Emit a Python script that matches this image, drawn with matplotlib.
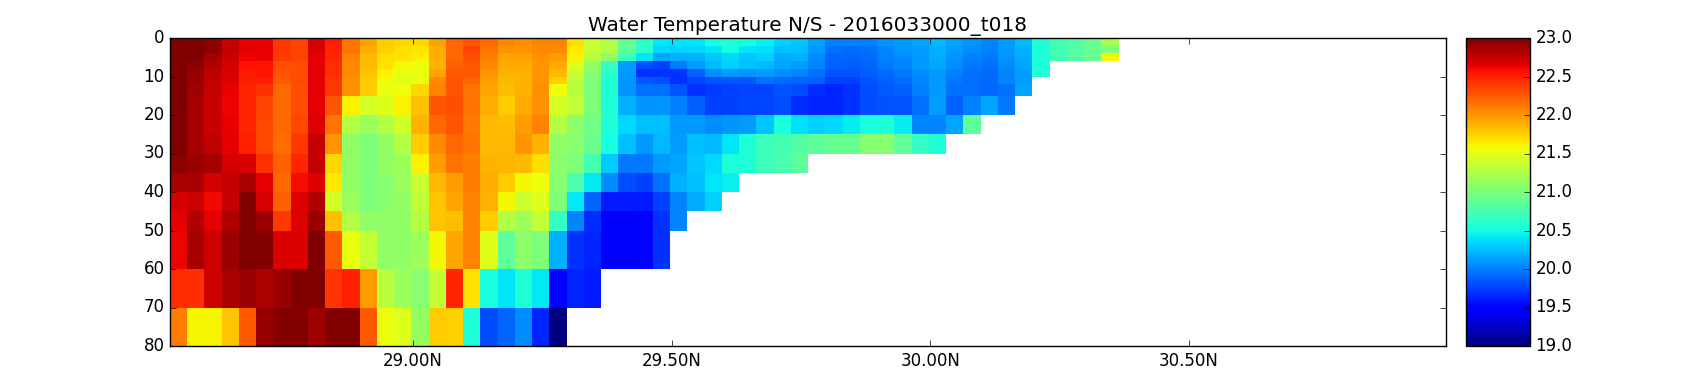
#!/usr/bin/env python3
# water temperature section, N/S
import matplotlib
matplotlib.use('Agg')
import matplotlib.pyplot as plt
import numpy as np
from matplotlib.ticker import FuncFormatter

plt.style.use('classic')

title = 'Water Temperature N/S - 2016033000_t018'
depth_edges = [0, 2, 4, 6, 8, 10, 12, 15, 20, 25, 30, 35, 40, 45, 50, 60, 70, 80]
lat_start = 28.53
lat_step = 0.03335
lat_ticks = [29.0, 29.5, 30.0, 30.5]
depth_ticks = [0, 10, 20, 30, 40, 50, 60, 70, 80]
cbar_ticks = [19.0, 19.5, 20.0, 20.5, 21.0, 21.5, 22.0, 22.5, 23.0]

# one list per latitude column, top down, stops where the bottom is reached
temp_columns = [
    [23.0, 23.0, 23.0, 23.0, 23.0, 23.0, 23.0, 23.0, 23.0, 23.0, 22.95, 22.85, 22.7, 22.65, 22.62, 22.45, 22.1],
    [23.0, 23.0, 23.0, 22.95, 22.92, 22.9, 22.88, 22.87, 22.85, 22.85, 22.9, 22.85, 22.72, 22.82, 22.87, 22.45, 21.6],
    [22.95, 22.95, 22.87, 22.82, 22.78, 22.75, 22.75, 22.74, 22.74, 22.78, 22.87, 22.7, 22.6, 22.65, 22.73, 22.72, 21.6],
    [22.75, 22.75, 22.72, 22.7, 22.68, 22.67, 22.63, 22.62, 22.63, 22.63, 22.7, 22.75, 22.75, 22.83, 22.9, 22.85, 21.8],
    [22.65, 22.65, 22.62, 22.55, 22.52, 22.5, 22.48, 22.47, 22.47, 22.5, 22.68, 22.85, 22.98, 22.98, 23.0, 22.9, 22.25],
    [22.64, 22.64, 22.64, 22.55, 22.55, 22.5, 22.43, 22.35, 22.33, 22.33, 22.43, 22.65, 22.7, 22.9, 22.98, 22.83, 22.92],
    [22.4, 22.4, 22.38, 22.3, 22.27, 22.25, 22.2, 22.2, 22.2, 22.18, 22.22, 22.2, 22.22, 22.4, 22.68, 22.9, 22.98],
    [22.35, 22.35, 22.35, 22.3, 22.3, 22.32, 22.3, 22.3, 22.33, 22.4, 22.47, 22.58, 22.67, 22.67, 22.68, 23.0, 22.98],
    [22.7, 22.7, 22.65, 22.65, 22.65, 22.63, 22.65, 22.65, 22.66, 22.75, 22.76, 22.66, 22.82, 22.9, 23.0, 23.0, 22.88],
    [22.5, 22.47, 22.47, 22.43, 22.45, 22.4, 22.4, 22.28, 22.15, 22.0, 21.72, 21.65, 21.42, 21.82, 22.25, 22.42, 22.98],
    [22.15, 22.15, 22.08, 22.05, 22.05, 22.03, 22.02, 21.62, 21.28, 21.1, 21.1, 21.1, 21.15, 21.27, 21.52, 22.5, 23.0],
    [21.95, 21.92, 21.85, 21.85, 21.8, 21.78, 21.77, 21.42, 21.15, 21.0, 21.0, 21.0, 21.0, 21.1, 21.35, 21.97, 22.25],
    [21.77, 21.75, 21.7, 21.68, 21.62, 21.57, 21.53, 21.47, 21.27, 21.1, 21.12, 21.05, 21.05, 21.1, 21.1, 21.3, 21.54],
    [21.72, 21.7, 21.68, 21.58, 21.53, 21.48, 21.55, 21.62, 21.4, 21.27, 21.17, 21.15, 21.12, 21.1, 21.1, 21.17, 21.47],
    [21.72, 21.68, 21.63, 21.54, 21.52, 21.52, 21.72, 21.82, 21.88, 21.78, 21.62, 21.37, 21.33, 21.27, 21.17, 21.05, 21.12],
    [21.95, 21.92, 21.9, 21.88, 21.95, 22.05, 22.08, 22.27, 22.2, 22.06, 21.97, 21.85, 21.8, 21.8, 21.58, 21.35, 21.77],
    [22.2, 22.2, 22.2, 22.23, 22.25, 22.28, 22.28, 22.3, 22.28, 22.2, 22.15, 21.97, 21.95, 21.83, 21.93, 22.47, 21.75],
    [22.28, 22.35, 22.3, 22.25, 22.25, 22.2, 22.15, 22.15, 22.12, 22.15, 22.1, 22.1, 22.08, 22.08, 22.08, 21.68, 20.55],
    [22.2, 22.15, 22.1, 22.07, 22.0, 21.97, 21.95, 21.92, 21.85, 21.85, 21.88, 21.92, 21.88, 21.78, 21.47, 20.53, 19.8],
    [22.07, 22.02, 21.95, 21.92, 21.88, 21.85, 21.83, 21.78, 21.83, 21.85, 21.87, 21.78, 21.58, 21.25, 20.85, 20.4, 19.9],
    [22.02, 22.0, 21.95, 21.92, 21.88, 21.88, 21.88, 21.92, 21.98, 22.0, 21.85, 21.58, 21.38, 21.17, 21.08, 20.55, 20.05],
    [22.08, 22.06, 22.02, 22.0, 22.0, 22.0, 22.02, 22.02, 22.08, 21.88, 21.7, 21.55, 21.47, 21.33, 21.0, 20.42, 19.65],
    [22.08, 22.06, 21.98, 21.92, 21.85, 21.75, 21.55, 21.42, 21.27, 21.1, 21.08, 21.05, 21.0, 20.65, 20.2, 19.45, 19.0],
    [21.7, 21.65, 21.62, 21.47, 21.35, 21.3, 21.3, 21.32, 21.08, 21.05, 21.0, 20.75, 20.42, 20.02, 19.7, 19.65],
    [21.37, 21.35, 21.28, 21.12, 21.05, 21.0, 21.0, 21.0, 20.95, 20.92, 20.72, 20.42, 19.9, 19.68, 19.65, 19.6],
    [21.25, 21.25, 21.1, 20.65, 20.6, 20.55, 20.55, 20.55, 20.55, 20.5, 20.3, 20.05, 19.6, 19.47, 19.47],
    [20.9, 20.85, 20.7, 20.12, 20.1, 20.08, 20.08, 20.2, 20.35, 20.25, 19.98, 19.8, 19.6, 19.47, 19.47],
    [20.62, 20.62, 20.4, 19.8, 19.7, 19.85, 19.95, 20.08, 20.25, 20.1, 19.98, 19.75, 19.6, 19.5, 19.5],
    [20.42, 20.35, 20.15, 19.75, 19.7, 19.82, 19.95, 20.08, 20.25, 20.22, 20.1, 19.95, 19.75, 19.7, 19.7],
    [20.4, 20.32, 20.2, 19.98, 19.7, 19.7, 19.83, 20.0, 20.1, 20.12, 20.15, 20.2, 20.03, 20.02],
    [20.4, 20.35, 20.2, 20.1, 19.88, 19.78, 19.7, 19.88, 20.1, 20.25, 20.28, 20.25, 20.18],
    [20.5, 20.4, 20.28, 20.22, 20.05, 19.82, 19.72, 19.75, 20.05, 20.22, 20.35, 20.4, 20.32],
    [20.55, 20.5, 20.35, 20.32, 20.12, 19.83, 19.75, 19.75, 20.08, 20.4, 20.55, 20.45],
    [20.5, 20.4, 20.28, 20.25, 20.08, 19.83, 19.78, 19.77, 20.12, 20.55, 20.55],
    [20.45, 20.38, 20.32, 20.22, 20.12, 19.95, 19.77, 19.77, 20.28, 20.7, 20.7],
    [20.32, 20.25, 20.18, 20.15, 20.05, 19.92, 19.83, 19.8, 20.52, 20.72, 20.75],
    [20.28, 20.25, 20.2, 20.12, 20.02, 19.9, 19.8, 19.68, 20.38, 20.8, 20.85],
    [20.15, 20.1, 20.05, 20.02, 19.95, 19.88, 19.68, 19.65, 20.32, 20.85],
    [20.0, 19.95, 19.9, 19.88, 19.83, 19.75, 19.65, 19.65, 20.35, 20.9],
    [20.0, 19.92, 19.9, 19.87, 19.83, 19.75, 19.7, 19.7, 20.43, 20.9],
    [20.0, 19.95, 19.92, 19.9, 19.86, 19.82, 19.8, 19.8, 20.5, 21.05],
    [20.08, 20.02, 20.0, 19.98, 19.92, 19.88, 19.85, 19.82, 20.55, 21.05],
    [20.1, 20.08, 20.05, 20.02, 19.98, 19.93, 19.88, 19.83, 20.43, 20.87],
    [20.15, 20.12, 20.1, 20.1, 20.05, 20.03, 20.0, 19.95, 20.02, 20.65],
    [20.22, 20.2, 20.18, 20.15, 20.1, 20.1, 20.1, 20.12, 20.02, 20.55],
    [20.15, 20.12, 20.08, 20.05, 20.0, 19.98, 19.95, 19.88, 20.15],
    [20.08, 20.05, 20.0, 19.98, 19.95, 19.95, 19.95, 20.0, 20.85],
    [20.02, 20.0, 19.98, 19.95, 19.92, 19.92, 19.92, 20.15],
    [20.12, 20.1, 20.08, 20.05, 20.02, 20.02, 19.95, 19.98],
    [20.22, 20.2, 20.18, 20.15, 20.12, 20.12, 20.15],
    [20.55, 20.55, 20.55, 20.55, 20.55],
    [20.72, 20.72, 20.72],
    [20.8, 20.8, 20.82],
    [20.9, 20.92, 20.9],
    [21.22, 21.0, 21.58],
]

n_rows = len(depth_edges) - 1
temps = np.full((n_rows, len(temp_columns)), np.nan)
for i, col in enumerate(temp_columns):
    temps[:len(col), i] = col
temps = np.ma.masked_invalid(temps)
lat_edges = lat_start + lat_step * np.arange(len(temp_columns) + 1)

fig = plt.figure(figsize=(17, 3.84), dpi=100, facecolor='white')
ax = fig.add_axes([170 / 1700, 1 - 346 / 384, 1276 / 1700, 308 / 384])
cax = fig.add_axes([1466 / 1700, 1 - 346 / 384, 64 / 1700, 308 / 384])

mesh = ax.pcolormesh(lat_edges, depth_edges, temps, cmap='jet', vmin=19, vmax=23)
ax.set_xlim(lat_start, 30.997)
ax.set_ylim(80, 0)
ax.set_xticks(lat_ticks)
ax.set_yticks(depth_ticks)
ax.xaxis.set_major_formatter(FuncFormatter(lambda v, pos: '%.2fN' % v))
ax.set_title(title, fontsize=14.4)

cb = fig.colorbar(mesh, cax=cax, ticks=cbar_ticks)
cb.ax.set_yticklabels(['%.1f' % t for t in cbar_ticks])

plt.savefig('out.png', dpi=100, facecolor='white')
